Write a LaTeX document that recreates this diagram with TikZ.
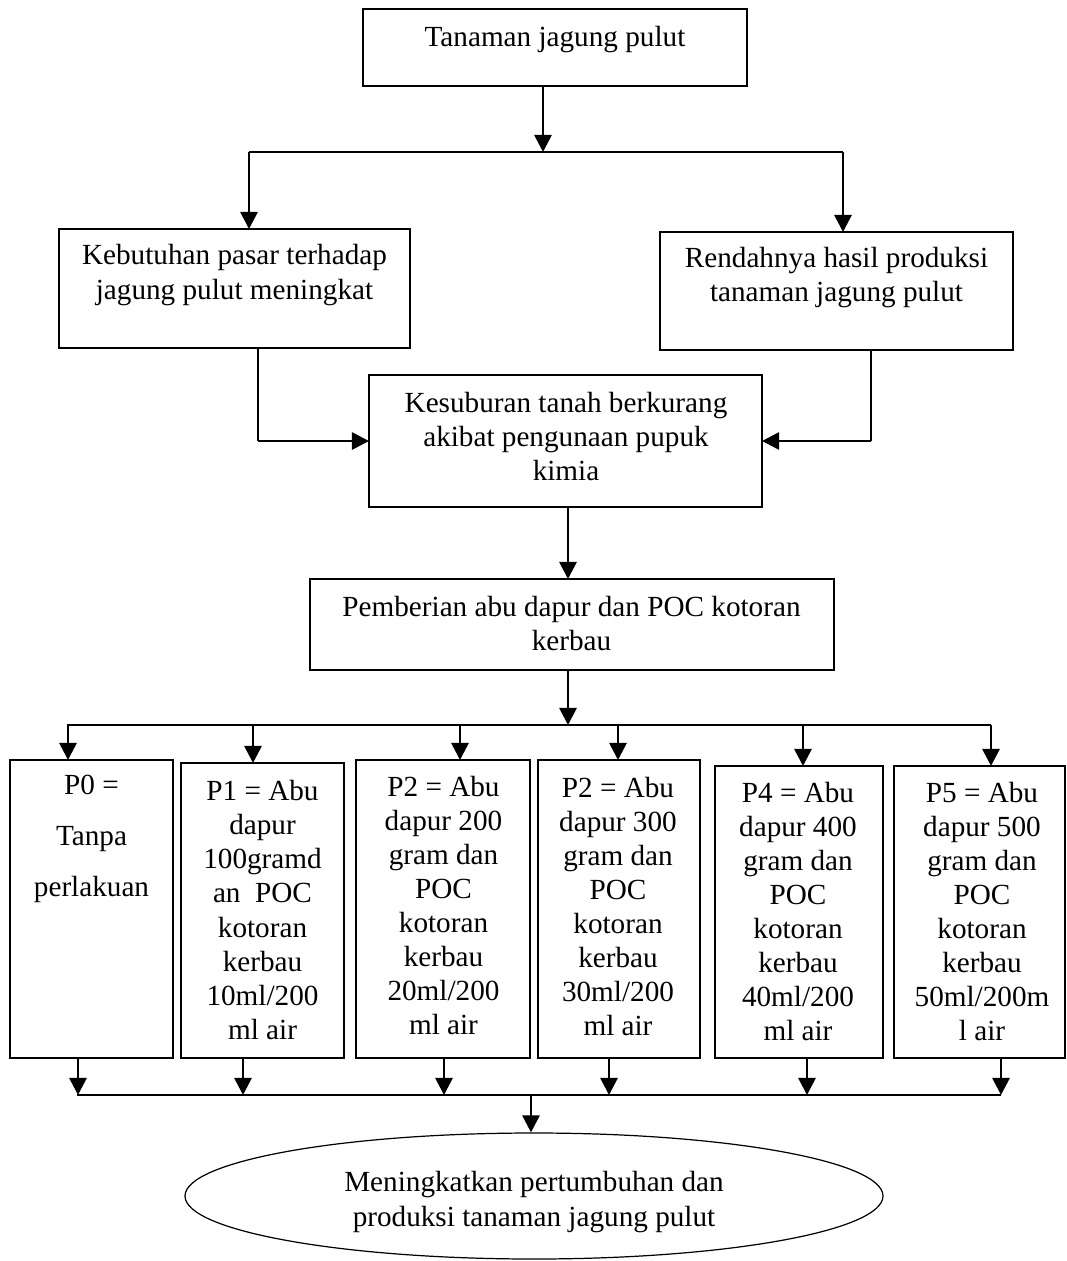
\documentclass[tikz,border=0pt]{standalone}
\usepackage{fontspec}
\setmainfont{Liberation Serif}
\usetikzlibrary{arrows.meta,shapes.geometric}
\def\uu{0.411pt}
\begin{document}
\begin{tikzpicture}[x=0.411pt,y=-0.411pt,
  box/.style={draw, line width=0.5pt, rectangle, inner sep=0pt, outer sep=0pt},
  txt/.style={align=center, inner sep=0pt, font=\fontsize{12}{14}\selectfont},
  wide/.style={align=center, inner sep=0pt, font=\fontsize{12}{21}\selectfont},
  thin/.style={line width=0.5pt},
  arr/.style={line width=1.1pt, -{Triangle[length=7pt,width=7pt]}}
]
\useasboundingbox (0,0) rectangle (1067,1261);

% boxes
\node[box, minimum width=384*\uu, minimum height=77*\uu] (tb) at (555,47.5) {};
\node[box, minimum width=351*\uu, minimum height=119*\uu] (lb) at (234.5,288.5) {};
\node[box, minimum width=353*\uu, minimum height=118*\uu] (rb) at (836.5,291) {};
\node[box, minimum width=393*\uu, minimum height=132*\uu] (mb) at (565.5,441) {};
\node[box, minimum width=524*\uu, minimum height=91*\uu] (pb) at (572,624.5) {};
\node[box, minimum width=163*\uu, minimum height=298*\uu] (p0) at (91.5,909) {};
\node[box, minimum width=163*\uu, minimum height=295*\uu] (p1) at (262.5,910.5) {};
\node[box, minimum width=174*\uu, minimum height=298*\uu] (p2) at (443,909) {};
\node[box, minimum width=162*\uu, minimum height=298*\uu] (p3) at (619,909) {};
\node[box, minimum width=168*\uu, minimum height=292*\uu] (p4) at (799,912) {};
\node[box, minimum width=171*\uu, minimum height=292*\uu] (p5) at (979.5,912) {};
\node[draw, ellipse, line width=0.5pt, inner sep=0pt, minimum width=698*\uu, minimum height=126*\uu] (el) at (534,1196) {};

% texts
\node[txt] (tbt) at (555,40) {Tanaman jagung pulut};
\node[txt] (lbt) at (234.5,275) {Kebutuhan pasar terhadap\\jagung pulut meningkat};
\node[txt] (rbt) at (836.5,277.5) {Rendahnya hasil produksi\\tanaman jagung pulut};
\node[txt] (mbt) at (566,436.5) {Kesuburan tanah berkurang\\akibat pengunaan pupuk\\kimia};
\node[txt] (pbt) at (571.5,623.5) {Pemberian abu dapur dan POC kotoran\\kerbau};
\node[wide] (p0t) at (91.5,839) {P0 =\\Tanpa\\perlakuan};
\node[txt] (p1t) at (262.5,910) {P1 = Abu\\dapur\\100gramd\\an\ \ POC\\kotoran\\kerbau\\10ml/200\\ml air};
\node[txt] (p2t) at (443.5,905.5) {P2 = Abu\\dapur 200\\gram dan\\POC\\kotoran\\kerbau\\20ml/200\\ml air};
\node[txt] (p3t) at (618,906.5) {P2 = Abu\\dapur 300\\gram dan\\POC\\kotoran\\kerbau\\30ml/200\\ml air};
\node[txt] (p4t) at (798,911.5) {P4 = Abu\\dapur 400\\gram dan\\POC\\kotoran\\kerbau\\40ml/200\\ml air};
\node[txt] (p5t) at (982,911.5) {P5 = Abu\\dapur 500\\gram dan\\POC\\kotoran\\kerbau\\50ml/200m\\l air};
\node[txt] (elt) at (534,1202) {Meningkatkan pertumbuhan dan\\produksi tanaman jagung pulut};

% top split
\coordinate (s1) at (543,152);
\coordinate (s1l) at (249,152);
\coordinate (s1r) at (843,152);
\draw[arr] (tb.south -| s1) -- (s1);
\draw[thin] (s1l) -- (s1r);
\draw[arr] (s1l) -- (lb.north -| s1l);
\draw[arr] (s1r) -- (rb.north -| s1r);

% side boxes into middle box
\coordinate (c1) at (258,441);
\coordinate (c2) at (871,441);
\draw[thin] (lb.south -| c1) -- (c1);
\draw[arr] (c1) -- (mb.west);
\draw[thin] (rb.south -| c2) -- (c2);
\draw[arr] (c2) -- (mb.east);

% middle to pemberian
\coordinate (c3) at (568,600);
\draw[arr] (mb.south -| c3) -- (pb.north -| c3);

% split to treatments
\coordinate (s2) at (568,725);
\coordinate (s2l) at (67,725);
\coordinate (s2r) at (991,725);
\draw[arr] (pb.south -| s2) -- (s2);
\draw[thin] (s2l) -- (s2r);
\coordinate (a0) at (68,725);
\coordinate (a1) at (253,725);
\coordinate (a2) at (460,725);
\coordinate (a3) at (618,725);
\coordinate (a4) at (803,725);
\coordinate (a5) at (991,725);
\foreach \i in {0,...,5} {\draw[arr] (a\i) -- (p\i.north -| a\i);}

% merge to result
\coordinate (b0) at (78,1095);
\coordinate (b1) at (243,1095);
\coordinate (b2) at (444,1095);
\coordinate (b3) at (609,1095);
\coordinate (b4) at (807,1095);
\coordinate (b5) at (1001,1095);
\foreach \i in {0,...,5} {\draw[arr] (p\i.south -| b\i) -- (b\i);}
\coordinate (s3l) at (77,1095);
\coordinate (s3r) at (1001,1095);
\draw[thin] (s3l) -- (s3r);
\coordinate (s3) at (531,1095);
\draw[arr] (s3) -- (el.north -| s3);
\end{tikzpicture}
\end{document}
